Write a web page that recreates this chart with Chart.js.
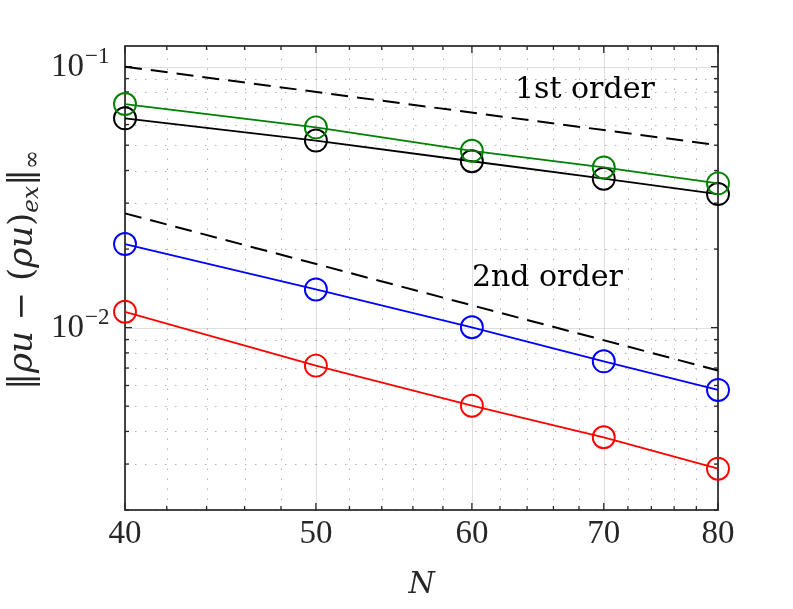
<!DOCTYPE html>
<html>
<head>
<meta charset="utf-8">
<script src="https://cdn.jsdelivr.net/npm/chart.js@4.4.1/dist/chart.umd.min.js"></script>
<style>
  html, body { margin: 0; padding: 0; background: #fff; }
  #wrap { width: 793px; height: 609px; position: relative; }
</style>
</head>
<body>
<div id="wrap"><canvas id="conv"></canvas></div>
<script>
// Data definitions

// grid sizes
const gridN = [40, 50, 60, 70, 80];
// errors
const errRed   = [0.0115, 0.00715, 0.00502, 0.00380, 0.00288];
const errBlue  = [0.0209, 0.0140, 0.01003, 0.00743, 0.00577];
const errBlack = [0.0634, 0.0521, 0.0434, 0.0372, 0.0325];
const errGreen = [0.0719, 0.0585, 0.0476, 0.0411, 0.0357];
// reference slopes (end points)
const refN = [40, 80];
const ref1st = [0.1, 0.05];
const ref2nd = [0.0274, 0.00685];

// ticks
const xMajor = [40, 50, 60, 70, 80];
const xMinor = [42, 44, 46, 48, 52, 54, 56, 58, 62, 64, 66, 68, 72, 74, 76, 78];
const yMajor = [0.01, 0.1];
const yMajorExp = ['\u22122', '\u22121'];
const yMinor = [0.002, 0.003, 0.004, 0.005, 0.006, 0.007, 0.008, 0.009,
                0.02, 0.03, 0.04, 0.05, 0.06, 0.07, 0.08, 0.09];

// text annotations, anchored in data coords
const noteText = ['1st order', '2nd order'];
const noteN = [63.1, 60.0];
const noteErr = [0.0809, 0.0154];

const pts = (xs, ys) => xs.map((x, i) => ({ x: x, y: ys[i] }));

function errSet(values, color) {
  return {
    data: pts(gridN, values),
    borderColor: color,
    borderWidth: 1.8,
    pointStyle: 'circle',
    pointRadius: 11,
    pointBorderWidth: 1.9,
    pointBorderColor: color,
    pointBackgroundColor: 'rgba(0,0,0,0)',
    tension: 0,
    clip: false
  };
}

function refSet(values) {
  return {
    data: pts(refN, values),
    borderColor: '#000',
    borderWidth: 2,
    borderDash: [17, 9],
    pointRadius: 0,
    clip: false
  };
}

const axisColor = '#262626';

// grid, box and inward ticks, MATLAB style
const axesBox = {
  id: 'axesBox',
  beforeDatasetsDraw(chart) {
    const ctx = chart.ctx, a = chart.chartArea;
    const xs = chart.scales.x, ys = chart.scales.y;
    ctx.save();
    // minor grid, dotted
    ctx.lineWidth = 1;
    ctx.strokeStyle = 'rgba(38,38,38,0.35)';
    ctx.setLineDash([1.5, 8.5]);
    xMinor.forEach(v => {
      const px = Math.round(xs.getPixelForValue(v)) + 0.5;
      ctx.beginPath(); ctx.moveTo(px, a.bottom); ctx.lineTo(px, a.top); ctx.stroke();
    });
    yMinor.forEach(v => {
      const py = Math.round(ys.getPixelForValue(v)) + 0.5;
      ctx.beginPath(); ctx.moveTo(a.left, py); ctx.lineTo(a.right, py); ctx.stroke();
    });
    // major grid, solid light
    ctx.setLineDash([]);
    ctx.strokeStyle = 'rgba(38,38,38,0.15)';
    xMajor.forEach(v => {
      const px = Math.round(xs.getPixelForValue(v)) + 0.5;
      ctx.beginPath(); ctx.moveTo(px, a.bottom); ctx.lineTo(px, a.top); ctx.stroke();
    });
    yMajor.forEach(v => {
      const py = Math.round(ys.getPixelForValue(v)) + 0.5;
      ctx.beginPath(); ctx.moveTo(a.left, py); ctx.lineTo(a.right, py); ctx.stroke();
    });
    // inward ticks on all four sides
    ctx.strokeStyle = axisColor;
    ctx.lineWidth = 1.3;
    const xt = (v, len) => {
      const px = xs.getPixelForValue(v);
      ctx.beginPath(); ctx.moveTo(px, a.bottom); ctx.lineTo(px, a.bottom - len); ctx.stroke();
      ctx.beginPath(); ctx.moveTo(px, a.top); ctx.lineTo(px, a.top + len); ctx.stroke();
    };
    const yt = (v, len) => {
      const py = ys.getPixelForValue(v);
      ctx.beginPath(); ctx.moveTo(a.left, py); ctx.lineTo(a.left + len, py); ctx.stroke();
      ctx.beginPath(); ctx.moveTo(a.right, py); ctx.lineTo(a.right - len, py); ctx.stroke();
    };
    xMajor.forEach(v => xt(v, 7));
    xMinor.forEach(v => xt(v, 4));
    yMajor.forEach(v => yt(v, 7));
    yMinor.forEach(v => yt(v, 4));
    // box
    ctx.lineWidth = 1.7;
    ctx.strokeRect(a.left, a.top, a.right - a.left, a.bottom - a.top);
    ctx.restore();
  },
  afterDraw(chart) {
    const ctx = chart.ctx;
    const xs = chart.scales.x, ys = chart.scales.y;
    ctx.save();
    // y tick labels 10^k
    ctx.fillStyle = axisColor;
    yMajor.forEach((v, i) => {
      const py = ys.getPixelForValue(v);
      ctx.font = '33px "Liberation Serif"';
      ctx.textAlign = 'right';
      ctx.textBaseline = 'alphabetic';
      ctx.fillText('10', 84, py + 9);
      ctx.font = '23px "Liberation Serif"';
      ctx.textAlign = 'left';
      ctx.fillText(yMajorExp[i], 85, py - 4);
    });
    // annotations
    ctx.fillStyle = '#000';
    ctx.font = '30px "DejaVu Serif"';
    ctx.textAlign = 'left';
    ctx.textBaseline = 'middle';
    noteText.forEach((t, i) => {
      ctx.fillText(t, xs.getPixelForValue(noteN[i]), ys.getPixelForValue(noteErr[i]));
    });
    // y axis title: ||rho u - (rho u)_ex||_inf
    const big = 34, small = 23;
    const up = s => s + 'px "DejaVu Serif"';
    const it = s => 'italic ' + s + 'px "DejaVu Serif"';
    const parts = [
      ['\u2016', up(big), 0], ['\u03c1u', it(big), 0], [' \u2212 ', up(big), 0],
      ['(', up(big), 0], ['\u03c1u', it(big), 0], [')', up(big), 0],
      ['ex', it(small), 6], ['\u2016', up(big), 0], ['\u221e', up(small), 7]
    ];
    let total = 0;
    parts.forEach(p => { ctx.font = p[1]; p.push(ctx.measureText(p[0]).width); total += p[3]; });
    ctx.translate(32, 270);
    ctx.rotate(-Math.PI / 2);
    ctx.fillStyle = axisColor;
    ctx.textAlign = 'left';
    ctx.textBaseline = 'alphabetic';
    let cx = -total / 2;
    parts.forEach(p => {
      ctx.font = p[1];
      ctx.fillText(p[0], cx, p[2]);
      cx += p[3];
    });
    ctx.restore();
  }
};

const chart = new Chart(document.getElementById('conv').getContext('2d'), {
  type: 'line',
  data: {
    datasets: [
      refSet(ref1st),
      refSet(ref2nd),
      errSet(errGreen, '#008000'),
      errSet(errBlack, '#000000'),
      errSet(errBlue, '#0000ff'),
      errSet(errRed, '#ff0000')
    ]
  },
  options: {
    responsive: true,
    maintainAspectRatio: false,
    animation: false,
    events: [],
    layout: { padding: { top: 46, right: 75, left: 0, bottom: 0 } },
    plugins: { legend: { display: false }, tooltip: { enabled: false } },
    scales: {
      x: {
        type: 'logarithmic',
        min: 40,
        max: 80,
        grid: { display: false },
        border: { display: false },
        afterBuildTicks: scale => { scale.ticks = xMajor.map(v => ({ value: v })); },
        afterFit: scale => { scale.height = 99; },
        ticks: {
          autoSkip: false,
          maxRotation: 0,
          padding: -3,
          color: axisColor,
          font: { family: '"Liberation Serif"', size: 33 },
          callback: v => String(v)
        },
        title: {
          display: true,
          text: 'N',
          color: axisColor,
          font: { family: '"DejaVu Serif"', style: 'italic', size: 30 },
          padding: { top: 0, bottom: 6 }
        }
      },
      y: {
        type: 'logarithmic',
        min: 0.002,
        max: 0.12,
        grid: { display: false },
        border: { display: false },
        ticks: { display: false },
        afterFit: scale => { scale.width = 125; }
      }
    }
  },
  plugins: [axesBox]
});
</script>
</body>
</html>
